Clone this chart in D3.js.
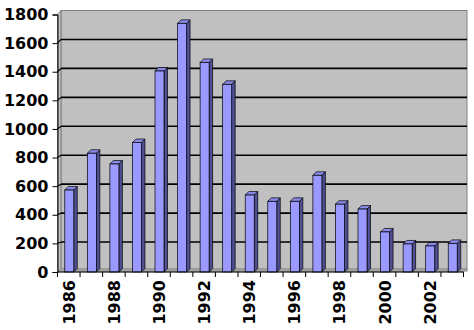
<!DOCTYPE html>
<html>
<head>
<meta charset="utf-8">
<script src="https://cdn.jsdelivr.net/npm/d3@7/dist/d3.min.js"></script>
<style>
  html, body { margin: 0; padding: 0; background: #fff; }
  svg { display: block; }
  .axis text { font-family: "DejaVu Sans", sans-serif; font-weight: bold; font-size: 16px; fill: #000; }
</style>
</head>
<body>
<svg id="chart" width="474" height="330"></svg>
<script>
// chart data
const years = ['1986', '1987', '1988', '1989', '1990', '1991', '1992', '1993', '1994',
  '1995', '1996', '1997', '1998', '1999', '2000', '2001', '2002', '2003'];
const counts = [573, 830, 755, 905, 1405, 1738, 1465, 1312, 538,
  494, 494, 676, 474, 440, 280, 196, 182, 200];
const yTicks = [0, 200, 400, 600, 800, 1000, 1200, 1400, 1600, 1800];

const svg = d3.select('#chart');

// front plane and depth offset of the 3d box
const cs = {
  left: 57.5,
  right: 463.5,
  bottom: 272,
  top: 14.5,
  depth: { dx: 3.5, dy: -3.5 },
  bar: { width: 9, dx: 3.5, dy: -3.5 },
  palette: {
    wall: '#c0c0c0',
    wallEdge: '#808080',
    floor: '#a0a0a0',
    front: '#9999ff',
    top: '#8a8ae8',
    side: '#4f4f94',
  },
};

const x = d3.scaleBand().domain(years).range([cs.left, cs.right]);
const y = d3.scaleLinear().domain([0, 1800]).range([cs.bottom, cs.top]);
// gridlines on the back wall sit on a slightly larger scale
const yBack = d3.scaleLinear().domain([0, 1800]).range([271, 10.5]);
const backL = cs.left + cs.depth.dx;
const backR = cs.right + cs.depth.dx;

const poly = pts => pts.map(p => p.join(',')).join(' ');

// back wall
svg.append('rect')
  .attr('x', backL).attr('y', yBack(1800))
  .attr('width', backR - backL).attr('height', yBack(0) - yBack(1800))
  .attr('fill', cs.palette.wall)
  .attr('stroke', cs.palette.wallEdge);

// side wall
svg.append('polygon')
  .attr('points', poly([[cs.left, y(1800)], [backL, yBack(1800)], [backL, yBack(0)], [cs.left, y(0)]]))
  .attr('fill', cs.palette.wall)
  .attr('stroke', cs.palette.wallEdge);

// gridlines: back wall + side wall
const grid = svg.append('g').attr('class', 'grid');
yTicks.filter(v => v > 0 && v < 1800).forEach(v => {
  grid.append('line')
    .attr('x1', backL).attr('x2', backR)
    .attr('y1', yBack(v)).attr('y2', yBack(v))
    .attr('stroke', '#000').attr('stroke-width', 1.6);
  grid.append('line')
    .attr('x1', cs.left).attr('x2', backL)
    .attr('y1', y(v)).attr('y2', yBack(v))
    .attr('stroke', '#000').attr('stroke-width', 1.2);
});

// floor
svg.append('polygon')
  .attr('points', poly([[cs.left, cs.bottom], [backL, 268.5], [backR, 268.5], [cs.right, cs.bottom]]))
  .attr('fill', cs.palette.floor)
  .attr('stroke', '#808080')
  .attr('stroke-width', 0.5);

// bars
const bars = svg.append('g').attr('class', 'bars')
  .selectAll('g')
  .data(years.map((d, i) => ({ dim: d, metric: counts[i] })))
  .enter()
  .append('g');

const bx = d => x(d.dim) + (x.bandwidth() - cs.bar.width) / 2 + 0.5;
const { dx, dy } = cs.bar;

bars.append('polygon')
  .attr('points', d => poly([
    [bx(d) + cs.bar.width, y(d.metric)], [bx(d) + cs.bar.width + dx, y(d.metric) + dy],
    [bx(d) + cs.bar.width + dx, cs.bottom + dy], [bx(d) + cs.bar.width, cs.bottom]]))
  .attr('fill', cs.palette.side)
  .attr('stroke', '#000').attr('stroke-width', 0.7);

bars.append('polygon')
  .attr('points', d => poly([
    [bx(d), y(d.metric)], [bx(d) + dx, y(d.metric) + dy],
    [bx(d) + cs.bar.width + dx, y(d.metric) + dy], [bx(d) + cs.bar.width, y(d.metric)]]))
  .attr('fill', cs.palette.top)
  .attr('stroke', '#000').attr('stroke-width', 0.7);

bars.append('rect')
  .attr('x', bx)
  .attr('y', d => y(d.metric))
  .attr('width', cs.bar.width)
  .attr('height', d => cs.bottom - y(d.metric))
  .attr('fill', cs.palette.front)
  .attr('stroke', '#000').attr('stroke-width', 0.7);

// y axis
const yAxis = d3.axisLeft(y).tickValues(yTicks).tickSize(5).tickPadding(4).tickFormat(d3.format('d'));
svg.append('g').attr('class', 'axis')
  .attr('transform', `translate(${cs.left},0)`)
  .call(yAxis)
  .call(g => g.selectAll('line, path').attr('stroke', '#000'));

// x axis: ticks between categories, labels on even years
const xAxisG = svg.append('g').attr('class', 'axis')
  .attr('transform', `translate(0,${cs.bottom})`);
xAxisG.append('line')
  .attr('x1', cs.left).attr('x2', cs.right)
  .attr('stroke', '#000');
xAxisG.selectAll('line.tick')
  .data(years.concat(['end']))
  .enter()
  .append('line')
  .attr('class', 'tick')
  .attr('x1', (d, i) => i < years.length ? x(d) : cs.right)
  .attr('x2', (d, i) => i < years.length ? x(d) : cs.right)
  .attr('y1', 0).attr('y2', 5)
  .attr('stroke', '#000');
xAxisG.selectAll('text')
  .data(years.filter((d, i) => i % 2 === 0))
  .enter()
  .append('text')
  .attr('transform', d => `translate(${x(d) + x.bandwidth() / 2 + 6},8) rotate(-90)`)
  .attr('text-anchor', 'end')
  .text(d => d);
</script>
</body>
</html>
